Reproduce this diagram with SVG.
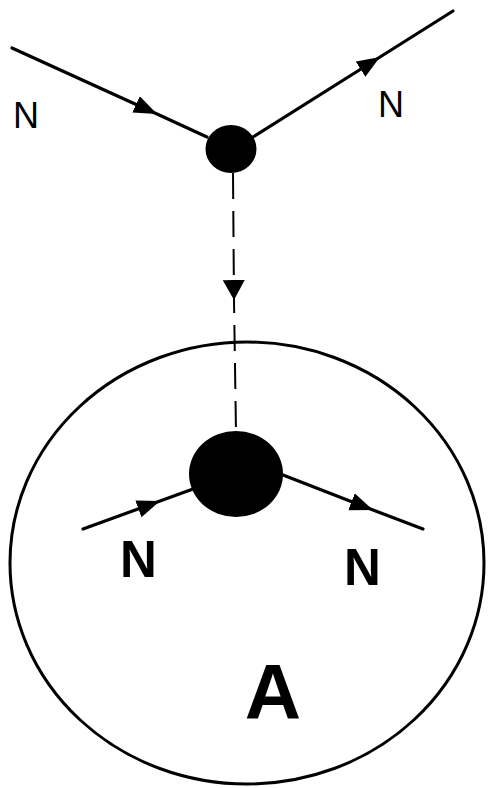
<svg xmlns="http://www.w3.org/2000/svg" width="493" height="788" viewBox="0 0 493 788">
<style>
.ln{fill:none;stroke:#000;stroke-width:3.2;stroke-linecap:round}
.dash{fill:none;stroke:#000;stroke-width:2;stroke-dasharray:26 12}
.t{font-family:"Liberation Sans",Arial,sans-serif;fill:#000}
.b{font-weight:bold}
</style>
<defs>
<marker id="arr" markerUnits="userSpaceOnUse" markerWidth="26" markerHeight="20" refX="23" refY="9" orient="auto" viewBox="0 0 26 20">
<polygon points="0,0 23,9 0,18"/>
</marker>
<marker id="arrd" markerUnits="userSpaceOnUse" markerWidth="24" markerHeight="24" refX="20" refY="11" orient="auto" viewBox="0 0 24 24">
<polygon points="0,0 20,11 0,22"/>
</marker>
</defs>
<g id="nucleus-A">
<ellipse cx="247" cy="563" rx="237" ry="221" fill="none" stroke="#000" stroke-width="3"/>
<text class="t b" x="273" y="719" font-size="78" text-anchor="middle">A</text>
</g>
<g id="vertex-top">
<ellipse cx="231" cy="149" rx="25.5" ry="24" fill="#000"/>
</g>
<g id="vertex-bottom">
<ellipse cx="236" cy="474" rx="47" ry="43" fill="#000"/>
</g>
<g id="connectors">
<path class="ln" d="M12,48 L157,114 L207,137" marker-mid="url(#arr)"/>
<path class="ln" d="M253,137 L380,57 L453,11" marker-mid="url(#arr)"/>
<path class="dash" d="M233,173 L234,300 L236,432" marker-mid="url(#arrd)"/>
<path class="ln" d="M83,529 L160,501 L193,489" marker-mid="url(#arr)"/>
<path class="ln" d="M283,475 L373,510 L423,529" marker-mid="url(#arr)"/>
</g>
<g id="labels">
<text class="t" x="13" y="128" font-size="36">N</text>
<text class="t" x="378" y="117" font-size="36">N</text>
<text class="t b" x="120" y="577" font-size="51">N</text>
<text class="t b" x="344" y="585" font-size="51">N</text>
</g>
</svg>
